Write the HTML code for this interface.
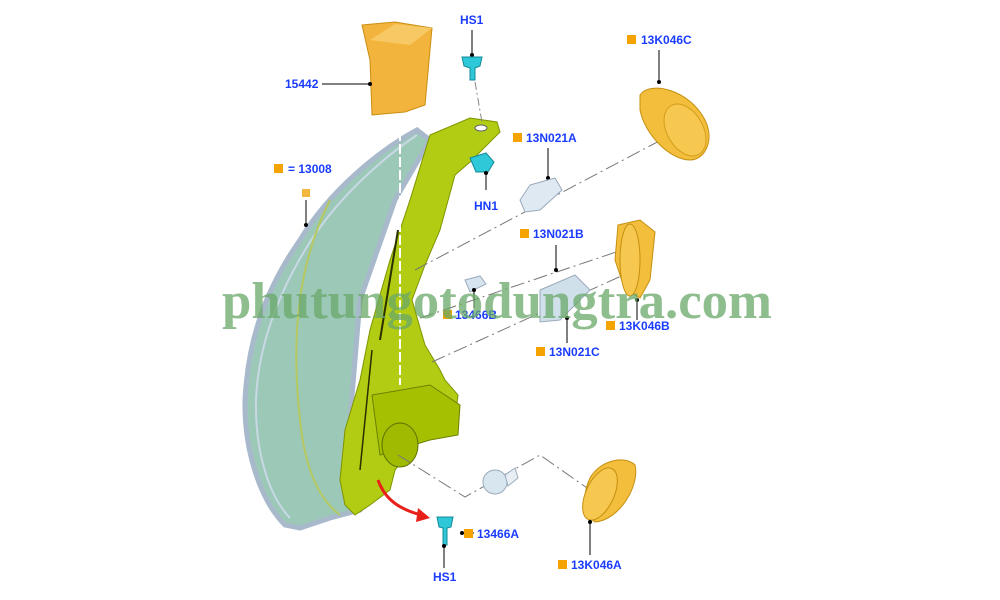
<!DOCTYPE html>
<html><head><meta charset="utf-8"><style>
html,body{margin:0;padding:0;background:#fff}
svg{display:block}
text{font-family:"Liberation Sans",sans-serif;font-weight:bold;font-size:12px;fill:#1a3cff}
</style></head><body>
<svg width="1000" height="600" viewBox="0 0 1000 600" xmlns="http://www.w3.org/2000/svg">
<!-- lens -->
<path d="M417,130 C380,150 330,190 300,240 C265,290 248,340 245,400 C244,450 260,500 285,525 L300,528 L330,518 L360,510 L375,490 L360,470 L350,420 L360,300 L395,200 L430,140 Z" fill="#9cc8b8" stroke="#a9b9cc" stroke-width="5"/>
<path d="M417,135 C380,160 335,200 305,250 C275,300 258,350 256,400 C255,450 268,495 290,518" fill="none" stroke="#c8d8e4" stroke-width="2"/>
<path d="M330,200 C300,260 290,330 300,420 C305,470 320,500 340,515" fill="none" stroke="#b6c860" stroke-width="2"/>
<!-- housing -->
<path d="M430,135 L470,118 L497,122 L500,132 L470,162 L455,175 L440,230 L425,265 L412,300 L425,345 L440,370 L445,380 L458,395 L455,420 L440,430 L420,440 L395,470 L390,490 L370,505 L355,515 L345,505 L340,480 L345,430 L360,380 L370,330 L390,260 L410,200 Z" fill="#b1cc12" stroke="#7f9400" stroke-width="1"/>
<path d="M372,395 L430,385 L460,405 L458,435 L430,440 L380,455 Z" fill="#a5c000" stroke="#6d8000"/>
<ellipse cx="400" cy="445" rx="18" ry="22" fill="#9fba00" stroke="#5e7000"/>
<path d="M380,340 L398,230" stroke="#2a3000" stroke-width="2"/>
<path d="M360,470 L372,350" stroke="#2a3000" stroke-width="1.5"/>
<!-- vertical dash line -->
<line x1="400" y1="118" x2="400" y2="385" stroke="#fff" stroke-width="2" stroke-dasharray="10,3"/>
<!-- 15442 -->
<path d="M362,25 L395,22 L432,28 L425,105 L405,112 L372,115 L370,60 Z" fill="#f2b43c" stroke="#c98e10"/>
<path d="M370,40 L395,24 L432,28 L410,45 Z" fill="#f7c964"/>
<line x1="322" y1="84" x2="370" y2="84" stroke="#000"/><circle cx="370" cy="84" r="2"/>
<text x="285" y="88">15442</text>
<!-- HS1 top -->
<text x="460" y="24">HS1</text>
<line x1="472" y1="30" x2="472" y2="55" stroke="#000"/><circle cx="472" cy="55" r="2"/>
<path d="M462,57 L482,57 L480,66 L475,68 L475,80 L470,80 L470,68 L464,66 Z" fill="#2ec8d8" stroke="#148a98"/>
<line x1="475" y1="82" x2="483" y2="128" stroke="#888" stroke-dasharray="8,3,2,3"/>
<ellipse cx="481" cy="128" rx="6" ry="3" fill="#fff" stroke="#666"/>
<!-- HN1 -->
<path d="M470,158 L486,153 L494,162 L488,172 L476,172 Z" fill="#2ec8d8" stroke="#148a98"/>
<line x1="486" y1="172" x2="486" y2="190" stroke="#000"/><circle cx="486" cy="173" r="2"/>
<text x="474" y="210">HN1</text>
<!-- 13008 -->
<rect x="274" y="164" width="9" height="9" fill="#f5a300"/>
<text x="288" y="173">= 13008</text>
<rect x="302" y="189" width="8" height="8" fill="#f5b640"/>
<line x1="306" y1="200" x2="306" y2="225" stroke="#000"/><circle cx="306" cy="225" r="2"/>
<!-- dash-dot lines -->
<g stroke="#777" fill="none" stroke-dasharray="14,4,2,4">
<line x1="415" y1="270" x2="680" y2="130"/>
<line x1="420" y1="318" x2="640" y2="244"/>
<line x1="432" y1="362" x2="630" y2="272"/>
<polyline points="398,455 465,497 540,455 590,490"/>
</g>
<!-- 13K046C -->
<rect x="627" y="35" width="9" height="9" fill="#f5a300"/>
<text x="641" y="44">13K046C</text>
<line x1="659" y1="50" x2="659" y2="82" stroke="#000"/><circle cx="659" cy="82" r="2"/>
<path d="M640,95 C650,80 690,90 705,120 C715,140 705,160 690,160 C670,160 645,135 640,110 Z" fill="#f2be3c" stroke="#c58f10"/>
<ellipse cx="685" cy="130" rx="18" ry="28" fill="#f6c84f" stroke="#d49c1c" transform="rotate(-30 685 130)"/>
<!-- 13N021A -->
<rect x="513" y="133" width="9" height="9" fill="#f5a300"/>
<text x="526" y="142">13N021A</text>
<line x1="548" y1="148" x2="548" y2="178" stroke="#000"/><circle cx="548" cy="178" r="2"/>
<path d="M530,185 L555,178 L562,190 L540,210 L525,212 L520,200 Z" fill="#dfe9f2" stroke="#9aaabb"/>
<!-- 13N021B -->
<rect x="520" y="229" width="9" height="9" fill="#f5a300"/>
<text x="533" y="238">13N021B</text>
<line x1="556" y1="245" x2="556" y2="270" stroke="#000"/><circle cx="556" cy="270" r="2"/>
<path d="M540,290 L575,275 L590,290 L560,320 L540,322 Z" fill="#cfe0ea" stroke="#9aaabb"/>
<!-- 13K046B -->
<path d="M618,225 L640,220 L655,232 L650,280 L640,298 L625,290 L615,260 Z" fill="#f2be3c" stroke="#c58f10"/>
<ellipse cx="630" cy="260" rx="10" ry="36" fill="#f6c84f" stroke="#c58f10"/>
<line x1="637" y1="300" x2="637" y2="320" stroke="#000"/><circle cx="637" cy="300" r="2"/>
<rect x="606" y="321" width="9" height="9" fill="#f5a300"/>
<text x="619" y="330">13K046B</text>
<!-- 13466B -->
<path d="M465,280 L480,276 L486,284 L470,292 Z" fill="#d5e4ee" stroke="#9aaabb"/>
<line x1="474" y1="290" x2="474" y2="308" stroke="#000"/><circle cx="474" cy="290" r="2"/>
<rect x="443" y="310" width="9" height="9" fill="#f5a300"/>
<text x="455" y="319">13466B</text>
<!-- 13N021C -->
<line x1="567" y1="318" x2="567" y2="343" stroke="#000"/><circle cx="567" cy="318" r="2"/>
<rect x="536" y="347" width="9" height="9" fill="#f5a300"/>
<text x="549" y="356">13N021C</text>
<!-- bottom bulb -->
<circle cx="495" cy="482" r="12" fill="#d8e6f0" stroke="#9aaabb"/>
<path d="M505,475 L515,468 L518,478 L508,486 Z" fill="#e8eef4" stroke="#9aaabb"/>
<!-- 13K046A -->
<path d="M590,478 C600,460 625,455 635,465 C640,485 620,520 595,522 C583,515 582,495 590,478 Z" fill="#f2be3c" stroke="#c58f10"/>
<ellipse cx="600" cy="494" rx="14" ry="28" fill="#f6c84f" stroke="#c58f10" transform="rotate(25 600 494)"/>
<line x1="590" y1="522" x2="590" y2="555" stroke="#000"/><circle cx="590" cy="522" r="2"/>
<rect x="558" y="560" width="9" height="9" fill="#f5a300"/>
<text x="571" y="569">13K046A</text>
<!-- red arrow -->
<path d="M378,480 C385,500 400,510 425,516" fill="none" stroke="#e8201a" stroke-width="3"/>
<path d="M418,508 L430,518 L416,522 Z" fill="#e8201a"/>
<!-- HS1 bottom -->
<path d="M437,517 L453,517 L451,527 L447,528 L447,545 L443,545 L443,528 L439,527 Z" fill="#2ec8d8" stroke="#148a98"/>
<line x1="444" y1="546" x2="444" y2="568" stroke="#000"/><circle cx="444" cy="546" r="2"/>
<text x="433" y="581">HS1</text>
<line x1="462" y1="533" x2="474" y2="533" stroke="#000"/><circle cx="462" cy="533" r="2"/>
<rect x="464" y="529" width="9" height="9" fill="#f5a300"/>
<text x="477" y="538">13466A</text>
<!-- watermark -->
<text x="222" y="318" style="font-family:'Liberation Serif',serif;font-size:52px;font-weight:bold;fill:#6aa868;fill-opacity:0.75" textLength="550" lengthAdjust="spacingAndGlyphs">phutungotodungtra.com</text>
</svg>
</body></html>
